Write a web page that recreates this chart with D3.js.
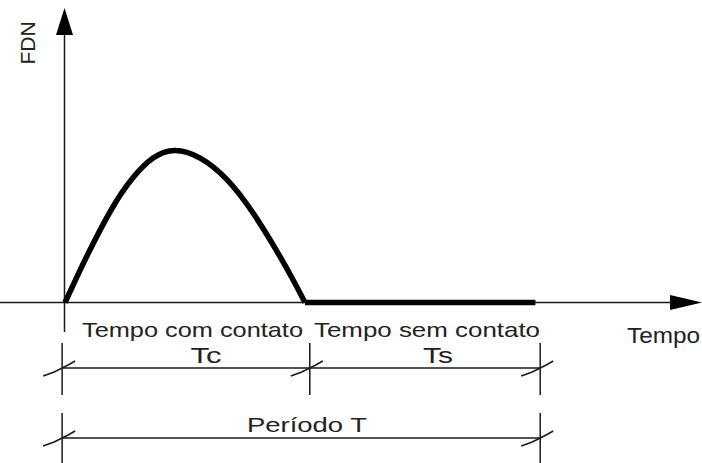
<!DOCTYPE html>
<html>
<head>
<meta charset="utf-8">
<script src="https://cdn.jsdelivr.net/npm/d3@7"></script>
<style>
  body { margin: 0; background: #fff; }
  svg { display: block; }
</style>
</head>
<body>
<script>
"use strict";

const width = 702;
const height = 463;

// curve (time units, FDN relative to peak)
const curveT = [0, 0.62, 1.18, 2.0, 2.83, 3.67, 4.58, 5.63, 6.74, 7.83, 8.82, 9.5, 10];
const curveF = [0, 0.21, 0.39, 0.63, 0.82, 0.95, 1.0, 0.95, 0.81, 0.59, 0.34, 0.15, 0];
const flatT = [10, 19.6];
const flatF = [0, 0];
// dimension marks (start, end of contact, end of period)
const markT = [-0.12, 10.2, 19.8];
const segLabels = ["Tempo com contato", "Tempo sem contato"];
const segSymbols = ["Tc", "Ts"];
const periodLabel = "Período T";
const xLabel = "Tempo";
const yLabel = "FDN";

const ink = "#1a1a1a";
const font = "'Liberation Sans', Arial, sans-serif";

const svg = d3
  .select("body")
  .append("svg")
  .attr("width", width)
  .attr("height", height);

const x = d3.scaleLinear().domain([0, 10]).range([65, 305]);
const y = d3.scaleLinear().domain([0, 1]).range([302.5, 150.5]);

// axes
svg.append("line")
  .attr("x1", 0).attr("x2", 672)
  .attr("y1", y(0)).attr("y2", y(0))
  .attr("stroke", ink).attr("stroke-width", 1.5);
svg.append("path")
  .attr("d", `M670,295 L702,${y(0)} L670,310 Z`)
  .attr("fill", "#000");

svg.append("line")
  .attr("x1", x(0) - 0.5).attr("x2", x(0) - 0.5)
  .attr("y1", 332).attr("y2", 33)
  .attr("stroke", ink).attr("stroke-width", 1.5);
svg.append("path")
  .attr("d", `M56,35 L${x(0) - 0.5},8 L73,35 Z`)
  .attr("fill", "#000");

// FDN curve
const curvePts = curveT.map((t, i) => [t, curveF[i]]);
const line = d3.line()
  .x(d => x(d[0]))
  .y(d => y(d[1]))
  .curve(d3.curveNatural);

svg.append("path")
  .attr("d", line(curvePts))
  .attr("fill", "none")
  .attr("stroke", "#000")
  .attr("stroke-width", 5.5)
  .attr("stroke-linejoin", "round");

svg.append("line")
  .attr("x1", x(flatT[0])).attr("x2", x(flatT[1]))
  .attr("y1", y(flatF[0])).attr("y2", y(flatF[1]))
  .attr("stroke", "#000")
  .attr("stroke-width", 5.5);

// dimension lines
const dimRows = [
  { y: 368, top: 343, bottom: 395, marks: markT },
  { y: 438, top: 413, bottom: 463, marks: [markT[0], markT[2]] }
];

dimRows.forEach(function (row) {
  svg.append("line")
    .attr("x1", x(row.marks[0])).attr("x2", x(row.marks[row.marks.length - 1]))
    .attr("y1", row.y).attr("y2", row.y)
    .attr("stroke", ink).attr("stroke-width", 1.3);

  row.marks.forEach(function (t) {
    const mx = x(t);
    svg.append("line")
      .attr("x1", mx).attr("x2", mx)
      .attr("y1", row.top).attr("y2", row.bottom)
      .attr("stroke", ink).attr("stroke-width", 1.5);
    // slash tick
    svg.append("path")
      .attr("d", `M${mx - 19},${row.y + 8} L${mx - 8},${row.y + 4} L${mx + 6},${row.y - 3} L${mx + 13},${row.y - 7}`)
      .attr("fill", "none")
      .attr("stroke", ink).attr("stroke-width", 1.6);
  });
});

// labels
function addText(txt, cx, base, size, len) {
  const t = svg.append("text")
    .text(txt)
    .attr("x", cx)
    .attr("y", base)
    .attr("text-anchor", "middle")
    .attr("font-family", font)
    .attr("font-size", size)
    .attr("fill", "#222");
  if (len) {
    t.attr("textLength", len).attr("lengthAdjust", "spacingAndGlyphs");
  }
  return t;
}

addText(segLabels[0], 192.5, 337, 21, 221);
addText(segLabels[1], 427, 337, 21, 226);
addText(segSymbols[0], 206, 363, 22, 31);
addText(segSymbols[1], 438, 363, 22, 30);
addText(periodLabel, 307, 432, 21, 120);
addText(xLabel, 663.5, 343, 22, 73);

svg.append("text")
  .text(yLabel)
  .attr("transform", "translate(34.5,43) rotate(-90)")
  .attr("text-anchor", "middle")
  .attr("font-family", font)
  .attr("font-size", 21)
  .attr("fill", "#222");
</script>
</body>
</html>
